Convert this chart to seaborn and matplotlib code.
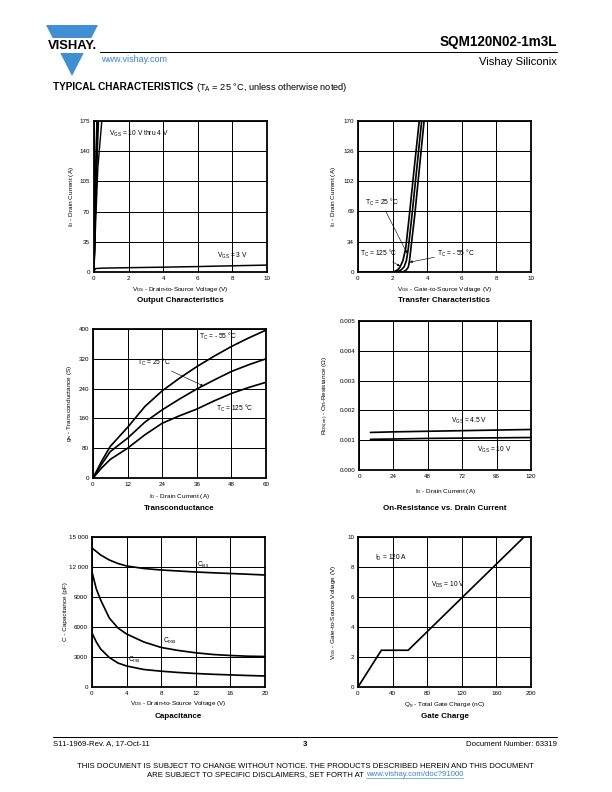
import matplotlib
matplotlib.use("Agg")
import matplotlib.pyplot as plt
import seaborn as sns
import numpy as np
import pandas as pd
from matplotlib.patches import Polygon, Rectangle
from matplotlib.lines import Line2D

# ---------------- data ----------------
# Output characteristics
out_vgs_high = [10, 9, 8, 7, 6, 5, 4]
out_id_high = [0, 60, 120, 175]
out_vds_high = [
    [0, 0.055, 0.11, 0.16],
    [0, 0.058, 0.115, 0.17],
    [0, 0.06, 0.12, 0.18],
    [0, 0.063, 0.13, 0.19],
    [0, 0.068, 0.14, 0.21],
    [0, 0.075, 0.16, 0.26],
    [0, 0.10, 0.22, 0.45],
]
out_vds_3v = [0, 0.05, 0.1, 0.5, 2, 4, 6, 8, 10]
out_id_3v = [0, 3.0, 4.0, 4.5, 5.0, 5.6, 6.3, 7.2, 8.0]

# Transfer characteristics
tr_id = [0, 0, 0.5, 2.5, 5.6, 13, 27, 64, 117, 170]
tr_vgs_125 = [0, 1.9, 2.1, 2.3, 2.43, 2.6, 2.76, 2.97, 3.25, 3.54]
tr_vgs_25 = [0, 2.15, 2.3, 2.5, 2.66, 2.8, 2.91, 3.12, 3.40, 3.68]
tr_vgs_m55 = [0, 2.5, 2.65, 2.8, 2.91, 2.98, 3.06, 3.28, 3.55, 3.82]

# Transconductance
gfs_id = [0, 3, 6, 12, 18, 24, 30, 36, 42, 48, 54, 60]
gfs_m55 = [0, 45, 85, 136, 192, 234, 268, 299, 327, 353, 376, 397]
gfs_25 = [0, 37, 71, 107, 150, 183, 212, 239, 263, 286, 304, 320]
gfs_125 = [0, 27, 50, 80, 116, 147, 167, 185, 207, 227, 243, 257]

# On-resistance vs drain current
ron_id = [8, 24, 48, 72, 96, 120]
ron_45 = [0.00126, 0.00128, 0.00130, 0.00132, 0.00134, 0.00136]
ron_10 = [0.00103, 0.00104, 0.00106, 0.00107, 0.00108, 0.00109]

# Capacitance
cap_vds = [0, 0.5, 1, 2, 3, 4, 6, 8, 10, 12, 14, 16, 18, 20]
cap_ciss = [13900, 13550, 13200, 12700, 12350, 12100, 11850, 11700, 11600, 11500, 11420, 11350, 11280, 11200]
cap_coss = [11500, 9800, 8700, 6900, 5900, 5300, 4500, 3950, 3650, 3420, 3250, 3150, 3080, 3050]
cap_crss = [5400, 4500, 3800, 2950, 2400, 2100, 1750, 1580, 1450, 1350, 1270, 1210, 1150, 1100]

# Gate charge
gc_qg = [0, 27, 58, 192]
gc_vgs = [0, 2.45, 2.45, 10]

# ---------------- style ----------------
sns.set_theme(style="white")
plt.rcParams["font.family"] = ["Liberation Sans", "DejaVu Sans"]
plt.rcParams["mathtext.fontset"] = "custom"
plt.rcParams["mathtext.rm"] = "Liberation Sans"
plt.rcParams["mathtext.it"] = "Liberation Sans:italic"
plt.rcParams["mathtext.bf"] = "Liberation Sans:bold"
plt.rcParams["text.color"] = "black"

W, H = 612, 792
fig = plt.figure(figsize=(W / 72, H / 72), dpi=72)
fig.patch.set_facecolor("white")

TICK_FS = 6.3
LAB_FS = 6.4
ANN_FS = 6.6
TITLE_FS = 8.0


def T(x, y, s, **kw):
    kw.setdefault("va", "center")
    return fig.text(x / W, 1 - y / H, s, **kw)


def add_ax(l, t, r, b):
    return fig.add_axes([l / W, 1 - b / H, (r - l) / W, (b - t) / H])


def style(ax, xlim, ylim, xt, yt, xtl=None, ytl=None):
    ax.set_xlim(xlim)
    ax.set_ylim(ylim)
    ax.set_xticks(xt)
    ax.set_yticks(yt)
    ax.set_xticklabels(xtl if xtl is not None else [str(v) for v in xt])
    ax.set_yticklabels(ytl if ytl is not None else [str(v) for v in yt])
    ax.grid(True, color="black", linewidth=1.0)
    ax.set_axisbelow(True)
    ax.tick_params(axis="both", length=0, labelsize=TICK_FS, pad=4, colors="black")
    for s in ax.spines.values():
        s.set_visible(True)
        s.set_linewidth(1.8)
        s.set_color("black")
        s.set_zorder(6)
    ax.set_xlabel("")
    ax.set_ylabel("")
    ax.set_facecolor("white")


def curve(ax, x, y, lw=1.7):
    sns.lineplot(x=x, y=y, ax=ax, color="black", linewidth=lw,
                 estimator=None, sort=False, legend=False)


def labels(l, t, r, b, xl, yl, xly, yx, title, ty):
    T((l + r) / 2, xly, xl, ha="center", fontsize=LAB_FS)
    T(yx, (t + b) / 2, yl, ha="center", rotation=90, fontsize=LAB_FS)
    T((l + r) / 2, ty, title, ha="center", fontsize=TITLE_FS, fontweight="bold")


arrow = dict(arrowstyle="-|>", color="black", lw=0.6, mutation_scale=5,
             shrinkA=0, shrinkB=0)

# ---------------- panel 1: output characteristics ----------------
p1 = (94, 121, 267, 272)
ax1 = add_ax(*p1)
for vds in out_vds_high:
    curve(ax1, vds, out_id_high, lw=1.4)
curve(ax1, out_vds_3v, out_id_3v, lw=1.5)
style(ax1, (0, 10), (0, 175), [0, 2, 4, 6, 8, 10], [0, 35, 70, 105, 140, 175])
ax1.text(2.6, 160, "V$_{\\rm GS}$ = 10 V thru 4 V", fontsize=ANN_FS, ha="center", va="center")
ax1.text(8.0, 18.5, "V$_{\\rm GS}$ = 3 V", fontsize=ANN_FS, ha="center", va="center")
labels(*p1, "V$_{\\rm DS}$ - Drain-to-Source Voltage (V)", "I$_{\\rm D}$ - Drain Current (A)",
       290, 71, "Output Characteristics", 300)

# ---------------- panel 2: transfer characteristics ----------------
p2 = (358, 121, 531, 272)
ax2 = add_ax(*p2)
for v in (tr_vgs_125, tr_vgs_25, tr_vgs_m55):
    curve(ax2, v, tr_id)
style(ax2, (0, 10), (0, 170), [0, 2, 4, 6, 8, 10], [0, 34, 69, 102, 136, 170])
ax2.annotate("T$_{\\rm C}$ = 25 °C", xy=(2.84, 21), xytext=(1.35, 78), fontsize=ANN_FS,
             ha="center", va="center", arrowprops=arrow)
ax2.annotate("T$_{\\rm C}$ = 125 °C", xy=(2.43, 6.5), xytext=(1.2, 20.5), fontsize=ANN_FS,
             ha="center", va="center", arrowprops=arrow)
ax2.annotate("T$_{\\rm C}$ = - 55 °C", xy=(2.99, 11), xytext=(5.65, 21.5), fontsize=ANN_FS,
             ha="center", va="center", arrowprops=arrow)
labels(*p2, "V$_{\\rm GS}$ - Gate-to-Source Voltage (V)", "I$_{\\rm D}$ - Drain Current (A)",
       290, 334, "Transfer Characteristics", 300)

# ---------------- panel 3: transconductance ----------------
p3 = (93, 329, 266, 478)
ax3 = add_ax(*p3)
for g in (gfs_m55, gfs_25, gfs_125):
    curve(ax3, gfs_id, g)
style(ax3, (0, 60), (0, 400), [0, 12, 24, 36, 48, 60], [0, 80, 160, 240, 320, 400])
ax3.text(43.4, 381, "T$_{\\rm C}$ = - 55 °C", fontsize=ANN_FS, ha="center", va="center")
ax3.annotate("T$_{\\rm C}$ = 25 °C", xy=(38.3, 247), xytext=(21.2, 309), fontsize=ANN_FS,
             ha="center", va="center", arrowprops=arrow)
ax3.text(49.2, 188, "T$_{\\rm C}$ = 125 °C", fontsize=ANN_FS, ha="center", va="center")
labels(*p3, "I$_{\\rm D}$ - Drain Current (A)", "g$_{\\rm fs}$ - Transconductance (S)",
       497, 70, "Transconductance", 509)

# ---------------- panel 4: on-resistance ----------------
p4 = (359, 321, 531, 470)
ax4 = add_ax(*p4)
curve(ax4, ron_id, ron_45)
curve(ax4, ron_id, ron_10)
style(ax4, (0, 120), (0, 0.005), [0, 24, 48, 72, 96, 120],
      [0, 0.001, 0.002, 0.003, 0.004, 0.005],
      ytl=["0.000", "0.001", "0.002", "0.003", "0.004", "0.005"])
ax4.text(76.7, 0.00164, "V$_{\\rm GS}$ = 4.5 V", fontsize=ANN_FS, ha="center", va="center")
ax4.text(94.2, 0.00067, "V$_{\\rm GS}$ = 10 V", fontsize=ANN_FS, ha="center", va="center")
labels(*p4, "I$_{\\rm D}$ - Drain Current (A)", "R$_{\\rm DS(on)}$ - On-Resistance (Ω)",
       491, 326, "On-Resistance vs. Drain Current", 509)

# ---------------- panel 5: capacitance ----------------
p5 = (92, 537, 265, 687)
ax5 = add_ax(*p5)
for c in (cap_ciss, cap_coss, cap_crss):
    curve(ax5, cap_vds, c)
style(ax5, (0, 20), (0, 15000), [0, 4, 8, 12, 16, 20], [0, 3000, 6000, 9000, 12000, 15000],
      ytl=["0", "3000", "6000", "9000", "12 000", "15 000"])
ax5.text(12.1, 12250, "C$_{\\rm iss}$", fontsize=ANN_FS, ha="left", va="center")
ax5.text(8.2, 4600, "C$_{\\rm oss}$", fontsize=ANN_FS, ha="left", va="center")
ax5.text(4.2, 2700, "C$_{\\rm rss}$", fontsize=ANN_FS, ha="left", va="center")
labels(*p5, "V$_{\\rm DS}$ - Drain-to-Source Voltage (V)", "C - Capacitance (pF)",
       703, 65, "Capacitance", 717)

# ---------------- panel 6: gate charge ----------------
p6 = (358, 537, 531, 687)
ax6 = add_ax(*p6)
curve(ax6, gc_qg, gc_vgs)
style(ax6, (0, 200), (0, 10), [0, 40, 80, 120, 160, 200], [0, 2, 4, 6, 8, 10])
ax6.text(19.7, 8.6, "I$_{\\rm D}$ = 120 A", fontsize=ANN_FS, ha="left", va="center")
ax6.text(84.4, 6.8, "V$_{\\rm DS}$ = 10 V", fontsize=ANN_FS, ha="left", va="center")
labels(*p6, "Q$_{\\rm g}$ - Total Gate Charge (nC)", "V$_{\\rm GS}$ - Gate-to-Source Voltage (V)",
       706, 333, "Gate Charge", 717)

# ---------------- header ----------------
blue = "#3f8fd2"
link_blue = "#3c82c8"


def P(x, y):
    return (x / W, 1 - y / H)


fig.patches.append(Polygon([P(46, 25), P(98, 25), P(72, 76)], closed=True,
                           facecolor=blue, edgecolor="none", transform=fig.transFigure))
fig.patches.append(Rectangle(P(42, 53), 60 / W, 15 / H, facecolor="white",
                             edgecolor="none", transform=fig.transFigure))
T(72, 46, "VISHAY.", ha="center", fontsize=13, fontweight="bold", color="black")
fig.lines.append(Line2D([100 / W, 557 / W], [1 - 52 / H, 1 - 52 / H], color="black",
                        lw=1.0, transform=fig.transFigure))
T(557, 42, "SQM120N02-1m3L", ha="right", fontsize=13.5, fontweight="bold")
T(557, 62, "Vishay Siliconix", ha="right", fontsize=11.2)
T(101, 59, "www.vishay.com", ha="left", fontsize=9, color=link_blue)
t_bold = T(53, 87, "TYPICAL CHARACTERISTICS", ha="left", fontsize=10, fontweight="bold")
fig.canvas.draw()
bb0 = t_bold.get_window_extent().transformed(fig.transFigure.inverted())
fig.text(bb0.x1 + 3 / W, 1 - 87 / H, "(T$_{\\rm A}$ = 25 °C, unless otherwise noted)",
         ha="left", va="center", fontsize=9.3)

# ---------------- footer ----------------
fig.lines.append(Line2D([53 / W, 557 / W], [1 - 737 / H, 1 - 737 / H], color="black",
                        lw=1.0, transform=fig.transFigure))
FOOT = 7.8
T(53, 744, "S11-1969-Rev. A, 17-Oct-11", ha="left", fontsize=FOOT)
T(305, 744, "3", ha="center", fontsize=FOOT, fontweight="bold")
T(557, 744, "Document Number: 63319", ha="right", fontsize=FOOT)
T(305, 766, "THIS DOCUMENT IS SUBJECT TO CHANGE WITHOUT NOTICE. THE PRODUCTS DESCRIBED HEREIN AND THIS DOCUMENT",
  ha="center", fontsize=FOOT)
t_black = T(0, 775, "ARE SUBJECT TO SPECIFIC DISCLAIMERS, SET FORTH AT ", ha="left", fontsize=FOOT)
t_link = T(0, 775, "www.vishay.com/doc?91000", ha="left", fontsize=FOOT, color=link_blue)
fig.canvas.draw()
bk = t_black.get_window_extent().transformed(fig.transFigure.inverted())
lk = t_link.get_window_extent().transformed(fig.transFigure.inverted())
total = bk.width + lk.width
x0 = 305 / W - total / 2
t_black.set_x(x0)
t_link.set_x(x0 + bk.width)
fig.canvas.draw()
lk = t_link.get_window_extent().transformed(fig.transFigure.inverted())
fig.lines.append(Line2D([lk.x0, lk.x1], [lk.y0 + 0.3 / H, lk.y0 + 0.3 / H], color=link_blue,
                        lw=0.6, transform=fig.transFigure))

fig.savefig("out.png", dpi=72, facecolor="white")
